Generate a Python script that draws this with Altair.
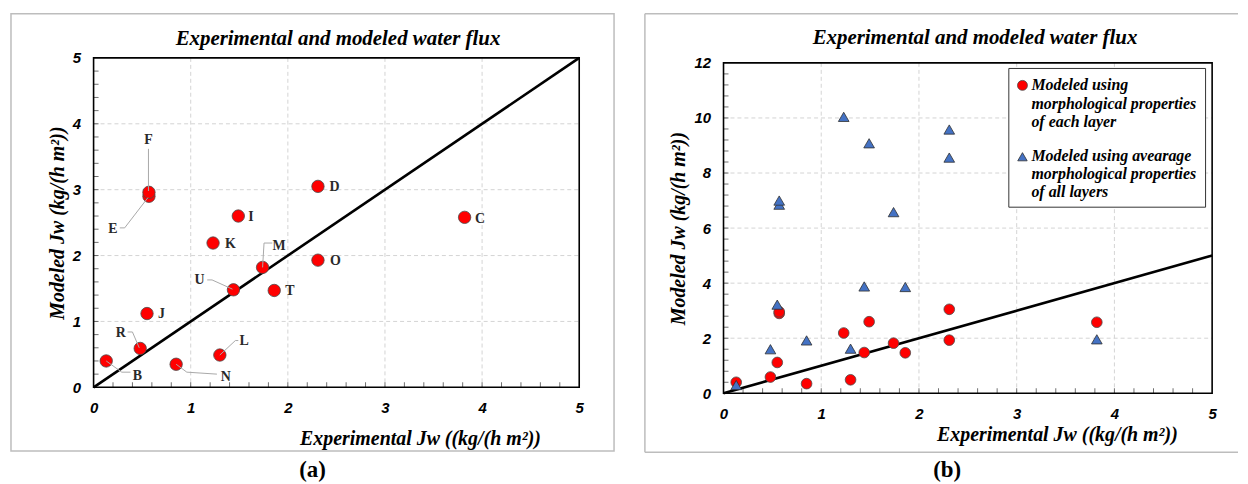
import altair as alt
import pandas as pd

# ---------------- data ----------------
samples = ["B", "C", "D", "E", "F", "I", "J", "K", "L", "M", "N", "O", "R", "T", "U"]
exp_jw = [0.13, 3.82, 2.31, 0.57, 0.57, 1.49, 0.55, 1.23, 1.30, 1.74, 0.85, 2.31, 0.48, 1.86, 1.44]
mod_each = [0.40, 2.58, 3.05, 2.90, 2.96, 2.60, 1.12, 2.19, 0.49, 1.82, 0.35, 1.93, 0.59, 1.47, 1.48]
mod_avg = [0.30, 1.96, 9.58, 6.85, 7.00, 9.08, 3.22, 10.04, 1.62, 6.58, 1.92, 8.56, 1.60, 3.86, 3.88]

# label positions (panel a), in data units
label_x = [0.45, 3.98, 2.48, 0.20, 0.565, 1.62, 0.70, 1.41, 1.55, 1.91, 1.36, 2.49, 0.28, 2.02, 1.09]
label_y = [0.17, 2.56, 3.04, 2.40, 3.75, 2.59, 1.12, 2.18, 0.70, 2.15, 0.16, 1.92, 0.82, 1.46, 1.63]

# leader lines (panel a)
leader_id = ["B", "B", "B", "E", "E", "E", "F", "F", "L", "L", "L",
             "M", "M", "M", "N", "N", "N", "R", "R", "R", "U", "U", "U"]
leader_ord = [0, 1, 2, 0, 1, 2, 0, 1, 0, 1, 2, 0, 1, 2, 0, 1, 2, 0, 1, 2, 0, 1, 2]
leader_x = [0.13, 0.29, 0.38, 0.56, 0.32, 0.27, 0.565, 0.565, 1.30, 1.46, 1.49,
            1.74, 1.755, 1.84, 0.85, 0.96, 1.27, 0.47, 0.40, 0.35, 1.43, 1.22, 1.17]
leader_y = [0.40, 0.23, 0.23, 2.88, 2.42, 2.42, 2.98, 3.62, 0.49, 0.71, 0.71,
            1.82, 2.19, 2.19, 0.35, 0.23, 0.20, 0.60, 0.84, 0.84, 1.49, 1.63, 1.63]

diag_x = [0, 5]
diag_y = [0, 5]

x_major = [0, 1, 2, 3, 4, 5]
y_major_a = [0, 1, 2, 3, 4, 5]
y_major_b = [0, 2, 4, 6, 8, 10, 12]
x_grid = [1, 2, 3, 4]
y_grid_a = [1, 2, 3, 4]
y_grid_b = [2, 4, 6, 8, 10]
x_minor = [round(i * 0.2, 1) for i in range(1, 25)]
y_minor_a = [round(i * 0.2, 1) for i in range(1, 25)]
y_minor_b = [round(i * 0.4, 1) for i in range(1, 30)]

title_txt = "Experimental and modeled water flux"
x_title = "Experimental Jw ((kg/(h m²))"
y_title = "Modeled Jw  (kg/(h m²))"
legend_txt_1 = "Modeled using\nmorphological properties\nof each layer"
legend_txt_2 = "Modeled using avearage\nmorphological properties\nof all layers"

df = pd.DataFrame({"sample": samples, "exp": exp_jw, "each": mod_each, "avg": mod_avg,
                   "lx": label_x, "ly": label_y})
lead = pd.DataFrame({"id": leader_id, "o": leader_ord, "x": leader_x, "y": leader_y})
diag = pd.DataFrame({"x": diag_x, "y": diag_y})
one = pd.DataFrame({"k": [0]})

SERIF = "Liberation Serif"
SANS = "Liberation Sans"
GRID = "#d4d4d4"


def xaxis(tx, ty):
    return alt.Axis(values=x_major, format="d", ticks=False, domain=False, grid=False,
                    labelFont=SANS, labelFontSize=15, labelFontStyle="italic",
                    labelFontWeight="bold", labelColor="black", labelPadding=13,
                    labelFlush=False, title=x_title, titleFont=SERIF, titleFontSize=20,
                    titleFontStyle="italic", titleFontWeight="bold", titleColor="black",
                    titleX=tx, titleY=ty, titleAlign="center", titleBaseline="alphabetic")


def yaxis(vals, tx, ty):
    return alt.Axis(values=vals, format="d", ticks=False, domain=False, grid=False,
                    labelFont=SANS, labelFontSize=15, labelFontStyle="italic",
                    labelFontWeight="bold", labelColor="black", labelPadding=13,
                    labelFlush=False, title=y_title, titleFont=SERIF, titleFontSize=20,
                    titleFontStyle="italic", titleFontWeight="bold", titleColor="black",
                    titleX=tx, titleY=ty, titleAngle=270, titleAlign="center",
                    titleBaseline="alphabetic")


def panel(W, H, top, ymax, yvals, ygrid, yminor, xt, ytx, frame, title_pos, caption, cap_pos,
          b=False):
    HT = H + top  # group height; plot area spans y = top .. HT
    xs = alt.Scale(domain=[0, 5], nice=False, zero=False, range=[0, W])
    ys = alt.Scale(domain=[0, ymax], nice=False, zero=False, range=[HT, top])

    base = alt.Chart(df)
    pts_each = base.mark_circle(color="#ff0000", stroke="#4a4a4a", strokeWidth=0.8,
                                size=115 if b else 155, opacity=1).encode(
        x=alt.X("exp:Q", scale=xs, axis=xaxis(*xt)),
        y=alt.Y("each:Q", scale=ys, axis=yaxis(yvals, ytx, top + H / 2)))

    line = alt.Chart(diag).mark_line(color="black", strokeWidth=2.6).encode(
        x=alt.X("x:Q", scale=xs), y=alt.Y("y:Q", scale=ys))

    # dashed grid
    vgrid = alt.Chart(pd.DataFrame({"v": x_grid})).mark_rule(
        color=GRID, strokeDash=[4, 3], strokeWidth=1).encode(
        x=alt.X("v:Q", scale=xs), y=alt.value(top), y2=alt.value(HT))
    hgrid = alt.Chart(pd.DataFrame({"v": ygrid})).mark_rule(
        color=GRID, strokeDash=[4, 3], strokeWidth=1).encode(
        y=alt.Y("v:Q", scale=ys), x=alt.value(0), x2=alt.value(W))

    # inward minor ticks
    xticks = alt.Chart(pd.DataFrame({"v": x_minor})).mark_tick(
        color="#333", thickness=1, size=5, orient="vertical").encode(
        x=alt.X("v:Q", scale=xs), y=alt.value(HT - 2.5))
    yticks = alt.Chart(pd.DataFrame({"v": yminor})).mark_tick(
        color="#333", thickness=1, size=5, orient="horizontal").encode(
        y=alt.Y("v:Q", scale=ys), x=alt.value(2.5))

    fr = alt.Chart(one)
    layers = [vgrid, hgrid, xticks, yticks]
    # outer (panel) frame
    if not b:
        layers.append(fr.mark_rect(fillOpacity=0, stroke="#bdbdbd", strokeWidth=1.5).encode(
            x=alt.value(frame[0]), x2=alt.value(frame[1]),
            y=alt.value(top + frame[2]), y2=alt.value(top + frame[3])))
    else:
        for (a1, a2, b1, b2) in [(frame[0], frame[1], frame[2], frame[2]),
                                 (frame[0], frame[1], frame[3], frame[3]),
                                 (frame[0], frame[0], frame[2], frame[3])]:
            layers.append(fr.mark_rule(color="#bdbdbd", strokeWidth=1.5).encode(
                x=alt.value(a1), x2=alt.value(a2), y=alt.value(top + b1), y2=alt.value(top + b2)))
    layers.append(fr.mark_text(text=title_txt, font=SERIF, fontSize=21, fontStyle="italic",
                               fontWeight="bold", color="black", align="center",
                               baseline="alphabetic").encode(
        x=alt.value(title_pos[0]), y=alt.value(top + title_pos[1])))
    layers.append(fr.mark_text(text=caption, font=SERIF, fontSize=23, fontWeight="bold",
                               color="black", align="center", baseline="alphabetic").encode(
        x=alt.value(cap_pos[0]), y=alt.value(top + cap_pos[1])))
    layers.append(line)

    if not b:
        leaders = alt.Chart(lead).mark_line(color="#a8a8a8", strokeWidth=1).encode(
            x=alt.X("x:Q", scale=xs), y=alt.Y("y:Q", scale=ys), detail="id:N", order="o:Q")
        labels = base.mark_text(font=SERIF, fontSize=14, fontWeight="bold", color="#2a2a2a",
                                align="center", baseline="middle").encode(
            x=alt.X("lx:Q", scale=xs), y=alt.Y("ly:Q", scale=ys), text="sample:N")
        layers += [pts_each, leaders, labels]
    else:
        tri = base.mark_point(shape="triangle-up", filled=True, fill="#4472c4", stroke="#2f2f2f",
                              strokeWidth=0.8, size=115, opacity=1).encode(
            x=alt.X("exp:Q", scale=xs), y=alt.Y("avg:Q", scale=ys))
        layers += [pts_each, tri]
        # legend box
        layers.append(fr.mark_rect(fill="white", stroke="#333", strokeWidth=1).encode(
            x=alt.value(286.7), x2=alt.value(484.4), y=alt.value(top + 5.6), y2=alt.value(top + 145)))
        layers.append(fr.mark_point(shape="circle", filled=True, fill="#ff0000", stroke="#4a4a4a",
                                    strokeWidth=0.8, size=100, opacity=1).encode(
            x=alt.value(300.4), y=alt.value(top + 22.6)))
        layers.append(fr.mark_point(shape="triangle-up", filled=True, fill="#4472c4", stroke="#2f2f2f",
                                    strokeWidth=0.8, size=90, opacity=1).encode(
            x=alt.value(300.4), y=alt.value(top + 94.3)))
        for txt, yy in [(legend_txt_1, 27.6), (legend_txt_2, 98.3)]:
            layers.append(fr.mark_text(text=txt, lineBreak="\n", lineHeight=18.3, font=SERIF,
                                       fontSize=16, fontStyle="italic", fontWeight="bold",
                                       color="black", align="left", baseline="alphabetic").encode(
                x=alt.value(309.4), y=alt.value(top + yy)))

    # plot-area frame
    layers.append(fr.mark_rect(fillOpacity=0, stroke="black", strokeWidth=1.6).encode(
        x=alt.value(0), x2=alt.value(W), y=alt.value(top), y2=alt.value(HT)))

    return alt.layer(*layers).properties(width=W, height=HT)


panel_a = panel(488, 331, 0, 5, y_major_a, y_grid_a, y_minor_a, (328, 57.7), -30.5,
                (-83, 523, -44.4, 395), (245.6, -13.4), "(a)", (220, 421))
panel_b = panel(491, 332, 5, 12, y_major_b, y_grid_b, y_minor_b, (335, 47.7), -39.5,
                (-79, 517, -49.4, 391.3), (252.7, -18.7), "(b)", (224.7, 416), b=True)

chart = alt.hconcat(panel_a, panel_b, spacing=27).properties(
    padding={"left": 1, "top": 3, "right": 0, "bottom": 0}
).configure_view(stroke="transparent")

chart.save("out.html", embed_options={"renderer": "svg", "actions": False})
